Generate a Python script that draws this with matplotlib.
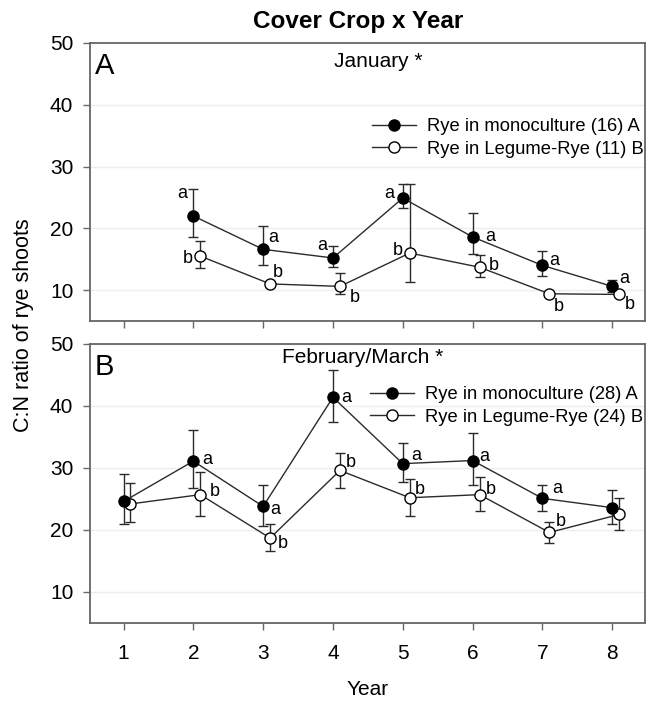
import numpy as np
import matplotlib
matplotlib.use("Agg")
import matplotlib.pyplot as plt
from matplotlib import rcParams

rcParams['font.family'] = ['Liberation Sans', 'DejaVu Sans']

# --- data

years = [1, 2, 3, 4, 5, 6, 7, 8]

# Panel A, January (no year 1 sample)
jan_years = [2, 3, 4, 5, 6, 7, 8]
jan_mono = [22.0, 16.6, 15.2, 24.9, 18.6, 14.0, 10.6]
jan_mono_lo = [18.6, 14.0, 13.7, 23.3, 15.8, 12.3, 9.7]
jan_mono_hi = [26.4, 20.4, 17.1, 27.2, 22.5, 16.3, 11.6]
jan_leg = [15.5, 11.0, 10.6, 16.0, 13.7, 9.4, 9.3]
jan_leg_lo = [13.6, 10.9, 9.3, 11.3, 12.1, 9.3, 9.2]
jan_leg_hi = [17.9, 11.1, 12.8, 27.2, 15.7, 9.5, 9.4]
jan_mono_letters = ["a", "a", "a", "a", "a", "a", "a"]
jan_leg_letters = ["b", "b", "b", "b", "b", "b", "b"]

# Panel B, February/March
feb_years = [1, 2, 3, 4, 5, 6, 7, 8]
feb_mono = [24.6, 31.1, 23.8, 41.4, 30.7, 31.2, 25.1, 23.6]
feb_mono_lo = [20.9, 26.7, 20.7, 37.4, 27.8, 27.2, 23.1, 21.0]
feb_mono_hi = [29.0, 36.2, 27.2, 45.8, 34.1, 35.7, 27.2, 26.4]
feb_leg = [24.2, 25.7, 18.7, 29.6, 25.2, 25.7, 19.6, 22.5]
feb_leg_lo = [21.3, 22.3, 16.6, 26.8, 22.3, 23.1, 17.9, 20.0]
feb_leg_hi = [27.6, 29.3, 21.0, 32.4, 28.3, 28.6, 21.3, 25.1]
feb_mono_letters = ["", "a", "a", "a", "a", "a", "a", ""]
feb_leg_letters = ["", "b", "b", "b", "b", "b", "b", ""]

# letter placement (pixels from the marker)
jan_mono_off = [(-11, 22), (10, 12), (-11, 12), (-14, 5), (18, 0), (12, 5), (12, 8)]
jan_leg_off = [(-13, -2), (8, 11), (15, -11), (-12, 3), (14, 2), (9, -13), (11, -10)]
feb_mono_off = [(0, 0), (14, 2), (12, -3), (13, 0), (13, 8), (12, 4), (15, 10), (0, 0)]
feb_leg_off = [(0, 0), (14, 3), (13, -5), (11, 8), (10, 8), (11, 5), (11, 11), (0, 0)]

SHIFT = 0.1   # open symbols are drawn a bit to the right
LINE = "#2b2b2b"
SPINE = "#666666"


def draw_panel(ax, x, mono, mlo, mhi, leg, llo, lhi, mlet, llet, moff, loff,
               n_mono, n_leg):
    x = np.array(x, dtype=float)
    mono = np.array(mono); leg = np.array(leg)
    merr = [mono - np.array(mlo), np.array(mhi) - mono]
    lerr = [leg - np.array(llo), np.array(lhi) - leg]

    ax.errorbar(x, mono, yerr=merr, fmt="none", ecolor=LINE, elinewidth=1,
                capsize=3.5, capthick=1, zorder=2)
    ax.errorbar(x + SHIFT, leg, yerr=lerr, fmt="none", ecolor=LINE,
                elinewidth=1, capsize=3.5, capthick=1, zorder=2)
    ax.plot(x, mono, color=LINE, lw=1, marker="o", ms=8, mfc="black",
            mec="black", zorder=4,
            label=f"Rye in monoculture ({n_mono}) A")
    ax.plot(x + SHIFT, leg, color=LINE, lw=1, marker="o", ms=8, mfc="white",
            mec="black", mew=1, zorder=3,
            label=f"Rye in Legume-Rye ({n_leg}) B")

    for xi, yi, s, o in zip(x, mono, mlet, moff):
        if s:
            ax.annotate(s, xy=(xi, yi), xytext=o, textcoords="offset pixels",
                        ha="center", va="center", fontsize=13)
    for xi, yi, s, o in zip(x + SHIFT, leg, llet, loff):
        if s:
            ax.annotate(s, xy=(xi, yi), xytext=o, textcoords="offset pixels",
                        ha="center", va="center", fontsize=13)

    ax.set_xlim(0.52, 8.47)
    ax.set_ylim(5, 50)
    ax.set_xticks(years)
    ax.set_yticks([10, 20, 30, 40, 50])
    ax.grid(axis="y", color="#eeeeee", lw=1)
    ax.set_axisbelow(True)
    for sp in ax.spines.values():
        sp.set_color(SPINE)
        sp.set_linewidth(1.3)
    ax.tick_params(axis="both", direction="out", length=5, width=1,
                   color=SPINE, labelsize=15)
    ax.tick_params(axis="x", pad=10)
    ax.tick_params(axis="y", pad=7)


fig = plt.figure(figsize=(6.48, 7.01), dpi=100)
axA = fig.add_axes([0.1389, 0.5421, 0.8565, 0.3966])
axB = fig.add_axes([0.1389, 0.1113, 0.8565, 0.3980])

draw_panel(axA, jan_years, jan_mono, jan_mono_lo, jan_mono_hi,
           jan_leg, jan_leg_lo, jan_leg_hi, jan_mono_letters, jan_leg_letters,
           jan_mono_off, jan_leg_off, 16, 11)
draw_panel(axB, feb_years, feb_mono, feb_mono_lo, feb_mono_hi,
           feb_leg, feb_leg_lo, feb_leg_hi, feb_mono_letters, feb_leg_letters,
           feb_mono_off, feb_leg_off, 28, 24)

axA.set_xticklabels([])

for ax, ycen in [(axA, 0.658), (axB, 0.778)]:
    ax.legend(loc="center right", bbox_to_anchor=(0.997, ycen), frameon=False,
              fontsize=13.2, borderpad=0, borderaxespad=0, handlelength=2.4,
              handletextpad=0.6, labelspacing=0.3)

axA.text(0.009, 0.968, "A", transform=axA.transAxes, ha="left", va="top",
         fontsize=21)
axB.text(0.009, 0.968, "B", transform=axB.transAxes, ha="left", va="top",
         fontsize=21)
axA.text(0.519, 0.932, "January *", transform=axA.transAxes, ha="center",
         va="center", fontsize=15)
axB.text(0.492, 0.95, "February/March *", transform=axB.transAxes,
         ha="center", va="center", fontsize=15)

fig.text(0.552, 0.970, "Cover Crop x Year", ha="center", va="center",
         fontsize=17.5, weight="bold")
fig.text(0.037, 0.536, "C:N ratio of rye shoots", rotation=90, ha="center",
         va="center", fontsize=15.5)
fig.text(0.568, 0.016, "Year", ha="center", va="center", fontsize=15)

plt.savefig("out.png", dpi=100, facecolor="white")
